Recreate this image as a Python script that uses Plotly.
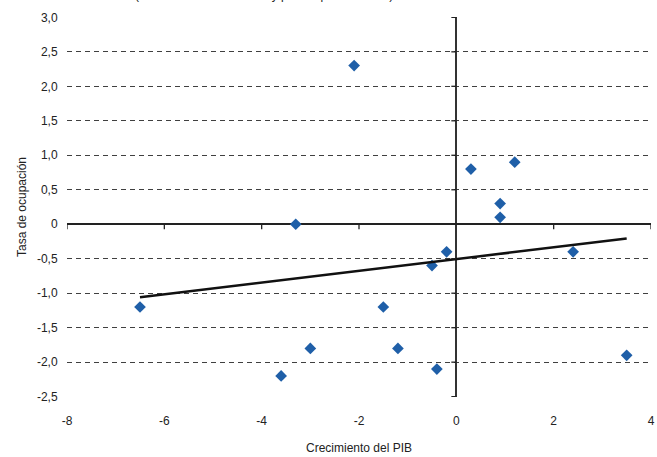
import numpy as np
import plotly.graph_objects as go

# Data
pib = [-3.3, 0.3, 1.2, 0.9, 0.9, -0.2, -0.5, 2.4, -1.5, -3.0, -1.2, -0.4, -3.6, 3.5, -2.1, -6.5]
ocupacion = [0.0, 0.8, 0.9, 0.3, 0.1, -0.4, -0.6, -0.4, -1.2, -1.8, -1.8, -2.1, -2.2, -1.9, 2.3, -1.2]

y_tickvals = [-2.5, -2.0, -1.5, -1.0, -0.5, 0.0, 0.5, 1.0, 1.5, 2.0, 2.5, 3.0]
y_ticktext = ["-2,5", "-2,0", "-1,5", "-1,0", "-0,5", "0", "0,5", "1,0", "1,5", "2,0", "2,5", "3,0"]
x_tickvals = [-8, -6, -4, -2, 0, 2, 4]
x_ticktext = ["-8", "-6", "-4", "-2", "0", "2", "4"]

title_text = "(tasas de variación anual y puntos porcentuales)"

# Linear trend line (least squares over the data)
slope, intercept = np.polyfit(pib, ocupacion, 1)
trend_x = [min(pib), max(pib)]
trend_y = [slope * v + intercept for v in trend_x]

font_family = "Liberation Sans, Arial, sans-serif"

fig = go.Figure()
fig.add_trace(go.Scatter(
    x=pib, y=ocupacion, mode="markers",
    marker=dict(symbol="diamond", size=9, color="#1F5FA8", line=dict(width=0)),
    hoverinfo="x+y",
))
fig.add_trace(go.Scatter(
    x=trend_x, y=trend_y, mode="lines",
    line=dict(color="#111111", width=2.5),
    hoverinfo="skip",
))

shapes = []
# tick marks on the horizontal axis line (y = 0), pointing down
for xv in x_tickvals:
    if xv == 0:
        continue
    shapes.append(dict(type="line", xref="x", yref="y", ysizemode="pixel", yanchor=0,
                       x0=xv, x1=xv, y0=0, y1=-5, line=dict(color="#222222", width=1.3)))
# tick marks on the vertical axis line (x = 0), pointing left
for yv in y_tickvals:
    shapes.append(dict(type="line", xref="x", yref="y", xsizemode="pixel", xanchor=0,
                       x0=0, x1=-5, y0=yv, y1=yv, line=dict(color="#222222", width=1.3)))

fig.update_layout(
    width=657, height=457,
    margin=dict(l=67, r=2, t=17, b=60),
    plot_bgcolor="white", paper_bgcolor="white",
    showlegend=False,
    font=dict(family=font_family, size=12, color="#222222"),
    shapes=shapes,
    annotations=[dict(
        text=title_text, xref="paper", yref="paper", x=0.338, y=1.0,
        xanchor="center", yanchor="bottom", yshift=13, showarrow=False,
        font=dict(family=font_family, size=12, color="#222222"),
    )],
    xaxis=dict(
        range=[-8, 4], tickvals=x_tickvals, ticktext=x_ticktext,
        showgrid=False, showline=False, ticklabeloverflow="allow",
        zeroline=True, zerolinecolor="#333333", zerolinewidth=1.5,
        ticks="outside", tickcolor="rgba(0,0,0,0)", ticklen=13,
        title=dict(text="Crecimiento del PIB", standoff=16, font=dict(size=12)),
    ),
    yaxis=dict(
        range=[-2.505, 3.005], tickvals=y_tickvals, ticktext=y_ticktext,
        showgrid=True, gridcolor="#404040", gridwidth=1, griddash="5px,4px",
        showline=False,
        zeroline=True, zerolinecolor="#222222", zerolinewidth=1.6,
        ticks="outside", tickcolor="rgba(0,0,0,0)", ticklen=6,
        title=dict(text="Tasa de ocupación", standoff=7, font=dict(size=12)),
    ),
)

fig.write_html(
    "out.html",
    config={"displayModeBar": False},
    post_script="document.body.style.margin='0';document.body.style.overflow='hidden';",
)
